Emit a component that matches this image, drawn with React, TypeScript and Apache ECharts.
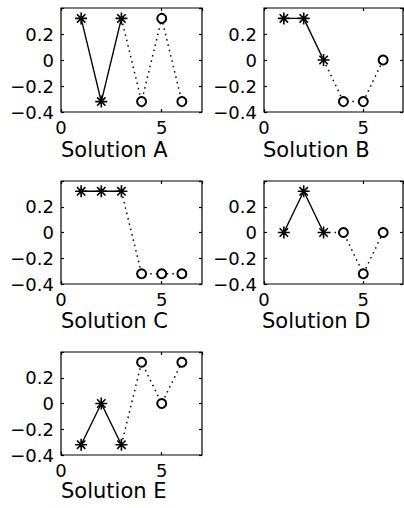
import React, { useEffect, useRef } from "react";
import * as echarts from "echarts";

const titles = ["Solution A", "Solution B", "Solution C", "Solution D", "Solution E"];
const starX = [1, 2, 3];
const circleX = [4, 5, 6];
const starA = [0.32, -0.32, 0.32];
const circleA = [-0.32, 0.32, -0.32];
const starB = [0.32, 0.32, 0];
const circleB = [-0.32, -0.32, 0];
const starC = [0.32, 0.32, 0.32];
const circleC = [-0.32, -0.32, -0.32];
const starD = [0, 0.32, 0];
const circleD = [0, -0.32, 0];
const starE = [-0.32, 0, -0.32];
const circleE = [0.32, 0, 0.32];
const yTicks = [-0.4, -0.2, 0, 0.2];
const xTicks = [0, 5];

const starData = [starA, starB, starC, starD, starE];
const circleData = [circleA, circleB, circleC, circleD, circleE];

const grids = [
  { left: 61, top: 8, width: 141, height: 104 },
  { left: 264, top: 8, width: 139, height: 104 },
  { left: 61, top: 181, width: 141, height: 103 },
  { left: 264, top: 181, width: 139, height: 103 },
  { left: 61, top: 352, width: 141, height: 103 },
];
const titlePos = [
  { left: 61, top: 139 },
  { left: 263, top: 139 },
  { left: 61, top: 310 },
  { left: 262, top: 310 },
  { left: 61, top: 480 },
];

const FONT = "DejaVu Sans";
const STAR = "path://M0,6L12,6M6,0L6,12M1.8,1.8L10.2,10.2M1.8,10.2L10.2,1.8";

function fmtY(v: number) {
  const r = Math.round(v * 10) / 10;
  if (!yTicks.some((t) => Math.abs(t - r) < 1e-9)) return "";
  if (r === 0) return "0";
  return (r < 0 ? "\u2212" : "") + Math.abs(r).toFixed(1);
}
function fmtX(v: number) {
  return xTicks.includes(v) ? String(v) : "";
}

export default function App() {
  const ref = useRef<HTMLDivElement>(null);
  useEffect(() => {
    if (!ref.current) return;
    const chart = echarts.init(ref.current, null, { renderer: "svg" });
    const grid: any[] = [];
    const xAxis: any[] = [];
    const yAxis: any[] = [];
    const series: any[] = [];
    const title: any[] = [];
    grids.forEach((g, i) => {
      grid.push({ ...g, show: true, borderColor: "#000", borderWidth: 1.2, backgroundColor: "#fff" });
      const tick = { show: true, inside: true, length: 3, lineStyle: { color: "#000", width: 1.2 } };
      const line = { show: false, onZero: false };
      xAxis.push({
        type: "value", gridIndex: i, min: 0, max: 7, interval: 5, position: "bottom",
        axisLine: line, axisTick: tick, splitLine: { show: false },
        axisLabel: { formatter: fmtX, color: "#000", fontFamily: FONT, fontSize: 18, margin: 6, showMaxLabel: false },
      });
      xAxis.push({
        type: "value", gridIndex: i, min: 0, max: 7, interval: 5, position: "top",
        axisLine: line, axisTick: tick, splitLine: { show: false }, axisLabel: { show: false },
      });
      yAxis.push({
        type: "value", gridIndex: i, min: -0.4, max: 0.4, interval: 0.2, position: "left",
        axisLine: line, axisTick: tick, splitLine: { show: false },
        axisLabel: { formatter: fmtY, color: "#000", fontFamily: FONT, fontSize: 18, margin: 7 },
      });
      yAxis.push({
        type: "value", gridIndex: i, min: -0.4, max: 0.4, interval: 0.2, position: "right",
        axisLine: line, axisTick: tick, splitLine: { show: false }, axisLabel: { show: false },
      });
      const s = starData[i];
      const c = circleData[i];
      series.push({
        type: "line", xAxisIndex: 2 * i, yAxisIndex: 2 * i, z: 2,
        data: [
          { value: [starX[2], s[2]], symbol: "none" },
          ...circleX.map((x, k) => ({ value: [x, c[k]] })),
        ],
        symbol: "emptyCircle", symbolSize: 9, showSymbol: true, showAllSymbol: true,
        itemStyle: { color: "#000", borderColor: "#000", borderWidth: 1.5 },
        lineStyle: { color: "#000", width: 1.5, type: [1.5, 4] },
        silent: true,
      });
      series.push({
        type: "line", xAxisIndex: 2 * i, yAxisIndex: 2 * i, z: 3,
        data: starX.map((x, k) => [x, s[k]]),
        symbol: STAR, symbolSize: 12, showSymbol: true,
        itemStyle: { color: "#000", borderColor: "#000", borderWidth: 1.6 },
        lineStyle: { color: "#000", width: 1.4 },
        silent: true,
      });
      title.push({
        text: titles[i], left: titlePos[i].left, top: titlePos[i].top, padding: 0,
        textStyle: { color: "#000", fontFamily: FONT, fontSize: 21, fontWeight: "normal" },
      });
    });
    chart.setOption({
      animation: false,
      backgroundColor: "#fff",
      title, grid, xAxis, yAxis, series,
    });
    return () => chart.dispose();
  }, []);
  return (
    <div
      ref={ref}
      style={{ position: "fixed", left: 0, top: 0, width: 404, height: 508 }}
    />
  );
}
